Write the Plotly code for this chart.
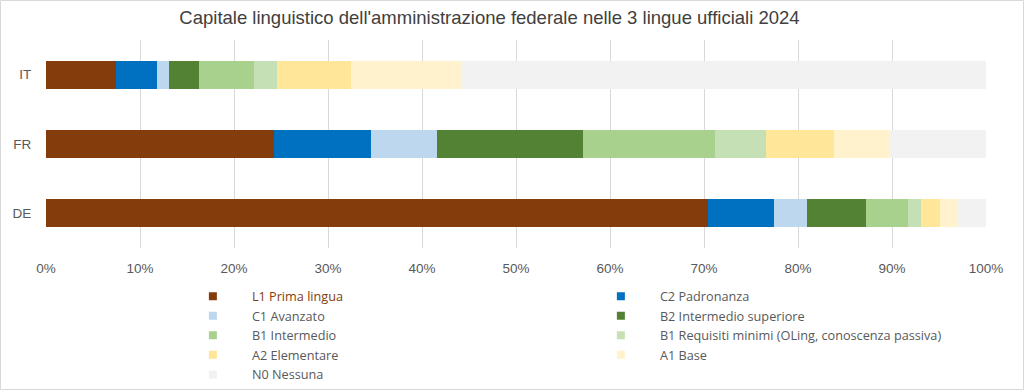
import plotly.graph_objects as go

categories = ["DE", "FR", "IT"]
levels = [
    "L1 Prima lingua",
    "C2 Padronanza",
    "C1 Avanzato",
    "B2 Intermedio superiore",
    "B1 Intermedio",
    "B1 Requisiti minimi (OLing, conoscenza passiva)",
    "A2 Elementare",
    "A1 Base",
    "N0 Nessuna",
]
# shares (%) per level, order: DE, FR, IT
values = {
    "L1 Prima lingua": [70.4, 24.3, 7.45],
    "C2 Padronanza": [7.0, 10.3, 4.35],
    "C1 Avanzato": [3.6, 7.0, 1.3],
    "B2 Intermedio superiore": [6.2, 15.5, 3.2],
    "B1 Intermedio": [4.5, 14.1, 5.8],
    "B1 Requisiti minimi (OLing, conoscenza passiva)": [1.4, 5.4, 2.5],
    "A2 Elementare": [2.0, 7.2, 7.8],
    "A1 Base": [1.8, 5.9, 11.8],
    "N0 Nessuna": [3.1, 10.3, 55.8],
}
colors = ["#843C0C", "#0070C0", "#BDD7EE", "#548235", "#A9D18E",
          "#C5E0B4", "#FFE699", "#FFF2CC", "#F2F2F2"]

FONT = "Liberation Sans"
GRAY = "#595959"

fig = go.Figure()
for lvl, col in zip(levels, colors):
    fig.add_trace(go.Bar(
        y=categories, x=[v / 100 for v in values[lvl]], orientation="h",
        name=lvl, legendgroup=lvl, showlegend=False,
        marker=dict(color=col, line=dict(width=0)),
        hovertemplate="%{y}: %{x:.1%}<extra>" + lvl + "</extra>",
    ))
# legend entries (small square keys like the original)
for lvl, col in zip(levels, colors):
    name = lvl
    if lvl.startswith("L1"):
        name = f'<span style="color:#843C0C">{lvl}</span>'
    fig.add_trace(go.Scatter(
        x=[None], y=[None], mode="markers", name=name, legendgroup=lvl,
        marker=dict(symbol="square", size=8, color=col), hoverinfo="skip",
    ))

fig.update_layout(
    barmode="stack",
    bargap=0.6,
    width=1024, height=390,
    margin=dict(l=46, r=38, t=40, b=142, autoexpand=False),
    paper_bgcolor="white", plot_bgcolor="white",
    font=dict(family=FONT, size=13, color=GRAY),
    title=dict(text="Capitale linguistico dell'amministrazione federale nelle 3 lingue ufficiali 2024",
               x=0.478, xref="container", xanchor="center", y=0.955, yref="container", yanchor="middle",
               font=dict(family=FONT, size=18.5, color="#404040")),
    xaxis=dict(range=[0, 1], tickformat=".0%", dtick=0.1, showgrid=True,
               gridcolor="#D9D9D9", gridwidth=1, zeroline=False, showline=False,
               ticks="outside", ticklen=8, tickcolor="rgba(0,0,0,0)", automargin=False,
               tickfont=dict(size=13.5, color=GRAY), fixedrange=True),
    yaxis=dict(showgrid=False, zeroline=False, showline=False, ticks="outside",
               ticklen=11, tickcolor="rgba(0,0,0,0)", automargin=False,
               tickfont=dict(size=13.5, color=GRAY), fixedrange=True),
    legend=dict(orientation="h", x=0.1698, xref="container", xanchor="left",
                y=0.278, yref="container", yanchor="top",
                entrywidth=325, itemwidth=68, traceorder="normal",
                font=dict(family="Open Sans", size=12.7, color=GRAY), tracegroupgap=0,
                bgcolor="rgba(0,0,0,0)"),
    showlegend=True,
)
fig.add_shape(type="rect", xref="paper", yref="paper", x0=-45.5/940, x1=1+37.5/940,
              y0=-141.5/208, y1=1+39.5/208, line=dict(color="#D9D9D9", width=1))

fig.write_html("out.html", post_script="document.body.style.margin='0';",
               config={"displayModeBar": False})
